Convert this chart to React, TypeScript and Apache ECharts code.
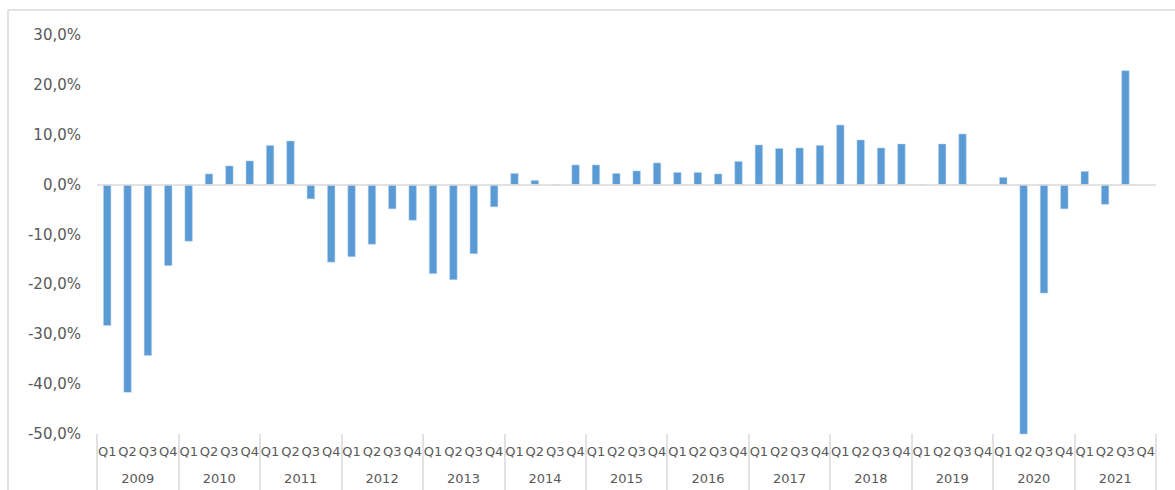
import React, { useEffect, useRef } from "react";
import * as echarts from "echarts";

const years = ["2009", "2010", "2011", "2012", "2013", "2014", "2015", "2016", "2017", "2018", "2019", "2020", "2021"];
const quarters = ["Q1", "Q2", "Q3", "Q4"];
const categories = years.flatMap((y) => quarters.map((q) => `${q}`));
const values: (number | null)[] = [
  -28.3, -41.7, -34.3, -16.3,
  -11.4, 2.2, 3.8, 4.8,
  7.9, 8.8, -2.9, -15.6,
  -14.5, -12.0, -4.9, -7.2,
  -17.9, -19.1, -13.9, -4.5,
  2.3, 0.9, -0.2, 4.0,
  4.0, 2.3, 2.8, 4.4,
  2.5, 2.5, 2.2, 4.7,
  8.0, 7.3, 7.4, 7.9,
  12.0, 9.0, 7.4, 8.2,
  -0.1, 8.2, 10.2, null,
  1.5, -52.0, -21.8, -4.9,
  2.7, -4.0, 22.9, null,
];
const yMin = -50;
const yMax = 30;
const yStep = 10;

export default function App() {
  const ref = useRef<HTMLDivElement>(null);
  useEffect(() => {
    if (!ref.current) return;
    const chart = echarts.init(ref.current, null, { renderer: "svg" });
    const textColor = "#595959";
    const font = "'DejaVu Sans', Verdana, sans-serif";
    chart.setOption({
      animation: false,
      backgroundColor: "#ffffff",
      graphic: [
        {
          type: "rect",
          shape: { x: 8, y: 10, width: 1175, height: 490 },
          style: { fill: "none", stroke: "#d9d9d9", lineWidth: 1.5 },
          silent: true,
        },
      ],
      grid: { left: 97, right: 19, top: 35, bottom: 56 },
      xAxis: [
        {
          type: "category",
          data: categories,
          position: "bottom",
          axisLine: { show: false },
          axisTick: { show: false },
          axisLabel: {
            interval: 0,
            margin: 11,
            color: textColor,
            fontSize: 13,
            fontFamily: font,
          },
          splitLine: { show: false },
        },
        {
          type: "category",
          data: years,
          position: "bottom",
          axisLine: { show: false },
          axisTick: {
            show: true,
            length: 56,
            interval: 0,
            lineStyle: { color: "#d9d9d9", width: 1.5 },
          },
          axisLabel: {
            interval: 0,
            margin: 38,
            color: textColor,
            fontSize: 13,
            fontFamily: font,
          },
          splitLine: { show: false },
        },
      ],
      yAxis: {
        type: "value",
        min: yMin,
        max: yMax,
        interval: yStep,
        axisLine: { show: false },
        axisTick: { show: false },
        splitLine: { show: false },
        axisLabel: {
          margin: 16,
          color: textColor,
          fontSize: 15,
          fontFamily: font,
          formatter: (v: number) => v.toFixed(1).replace(".", ",") + "%",
        },
      },
      series: [
        {
          type: "bar",
          xAxisIndex: 0,
          data: values,
          barWidth: 8,
          clip: true,
          itemStyle: { color: "#5b9bd5", borderColor: "#bdd7ee", borderWidth: 0.5 },
          markLine: {
            silent: true,
            symbol: "none",
            label: { show: false },
            lineStyle: { color: "#d9d9d9", width: 1.5, type: "solid" },
            data: [{ yAxis: 0 }],
          },
        },
      ],
    });
    return () => chart.dispose();
  }, []);
  return (
    <div
      ref={ref}
      style={{ position: "absolute", left: 0, top: 0, width: 1175, height: 490 }}
    />
  );
}
